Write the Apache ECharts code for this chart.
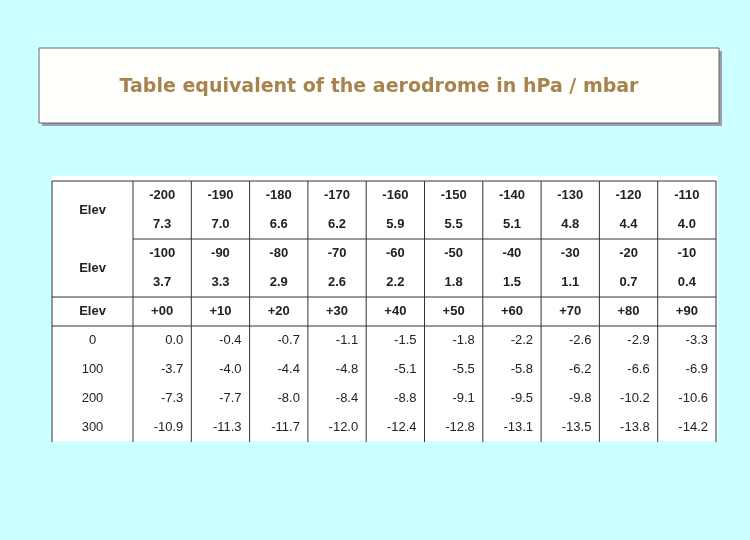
<!DOCTYPE html>
<html>
<head>
<meta charset="utf-8">
<script src="https://cdn.jsdelivr.net/npm/echarts@6/dist/echarts.min.js"></script>
<style>html,body{margin:0;background:#ccffff;} #chart{width:750px;height:540px;}</style>
</head>
<body>
<div id="chart"></div>
<script>
var title = 'Table equivalent of the aerodrome in hPa / mbar';
var elevNeg1 = ['-200', '-190', '-180', '-170', '-160', '-150', '-140', '-130', '-120', '-110'];
var corrNeg1 = ['7.3', '7.0', '6.6', '6.2', '5.9', '5.5', '5.1', '4.8', '4.4', '4.0'];
var elevNeg2 = ['-100', '-90', '-80', '-70', '-60', '-50', '-40', '-30', '-20', '-10'];
var corrNeg2 = ['3.7', '3.3', '2.9', '2.6', '2.2', '1.8', '1.5', '1.1', '0.7', '0.4'];
var elevPos = ['+00', '+10', '+20', '+30', '+40', '+50', '+60', '+70', '+80', '+90'];
var rowElev = ['0', '100', '200', '300'];
var rowValues = [
  ['0.0', '-0.4', '-0.7', '-1.1', '-1.5', '-1.8', '-2.2', '-2.6', '-2.9', '-3.3'],
  ['-3.7', '-4.0', '-4.4', '-4.8', '-5.1', '-5.5', '-5.8', '-6.2', '-6.6', '-6.9'],
  ['-7.3', '-7.7', '-8.0', '-8.4', '-8.8', '-9.1', '-9.5', '-9.8', '-10.2', '-10.6'],
  ['-10.9', '-11.3', '-11.7', '-12.0', '-12.4', '-12.8', '-13.1', '-13.5', '-13.8', '-14.2']
];

// column edges in axis units (first column wider)
var firstW = 81, colW = 58.3;
function colX0(c) { return c === 0 ? 0 : firstW + (c - 1) * colW; }
function colX1(c) { return c === 0 ? firstW : firstW + c * colW; }

// each cell: [col, row, text, kind]  kind: h = header (bold, centred), l = label, d = data (right)
var cells = [];
var headerRows = [elevNeg1, corrNeg1, elevNeg2, corrNeg2, elevPos];
headerRows.forEach(function (arr, r) {
  cells.push([0, r, (r === 0 || r === 2 || r === 4) ? 'Elev' : '', 'lab']);
  arr.forEach(function (t, i) { cells.push([i + 1, r, t, 'h']); });
});
rowValues.forEach(function (arr, k) {
  cells.push([0, k + 5, rowElev[k], 'l']);
  arr.forEach(function (t, i) { cells.push([i + 1, k + 5, t, 'd']); });
});

var chart = echarts.init(document.getElementById('chart'));
var lineStyle = { stroke: '#333', lineWidth: 1 };

chart.setOption({
  backgroundColor: '#ccffff',
  animation: false,
  graphic: [
    { type: 'rect', shape: { x: 42, y: 51, width: 680, height: 75 }, style: { fill: '#9c9cb4' } },
    { type: 'rect', shape: { x: 39, y: 48, width: 680, height: 75 }, style: { fill: '#fffffb', stroke: '#666', lineWidth: 1 } },
    { type: 'text', x: 379, y: 87, style: { text: title, font: 'bold 19px "DejaVu Sans"', fill: '#a8834f', align: 'center', verticalAlign: 'middle' } },
    { type: 'rect', shape: { x: 52, y: 176, width: 666, height: 265 }, style: { fill: '#ffffff' }, z: -1 }
  ],
  grid: { left: 52, width: 664, top: 181, height: 261 },
  xAxis: { type: 'value', min: 0, max: firstW + 10 * colW, show: false },
  yAxis: { type: 'value', min: 0, max: 9, inverse: true, show: false },
  series: [{
    type: 'custom',
    data: cells,
    renderItem: function (params, api) {
      var c = api.value(0), r = api.value(1);
      var item = cells[params.dataIndex];
      var text = item[2], kind = item[3];
      var p0 = api.coord([colX0(c), r]);
      var p1 = api.coord([colX1(c), r + 1]);
      var children = [];
      children.push({ type: 'line', shape: { x1: p0[0], y1: p0[1], x2: p0[0], y2: p1[1] }, style: lineStyle });
      if (c === 10) children.push({ type: 'line', shape: { x1: p1[0], y1: p0[1], x2: p1[0], y2: p1[1] }, style: lineStyle });
      if (r === 0 || r === 4 || r === 5 || (r === 2 && c > 0)) {
        children.push({ type: 'line', shape: { x1: p0[0], y1: p0[1], x2: p1[0], y2: p0[1] }, style: lineStyle });
      }
      if (text) {
        var ty = (p0[1] + p1[1]) / 2;
        if (kind === 'lab' && r !== 4) ty = p1[1]; // merged over two rows
        var tx = (p0[0] + p1[0]) / 2, align = 'center';
        if (kind === 'd') { tx = p1[0] - 8; align = 'right'; }
        children.push({
          type: 'text',
          style: {
            text: text, x: tx, y: ty, align: align, verticalAlign: 'middle',
            font: ((kind === 'h' || kind === 'lab') ? 'bold ' : '') + '13px "Liberation Sans"',
            fill: '#222'
          }
        });
      }
      return { type: 'group', children: children };
    }
  }]
});
</script>
</body>
</html>
